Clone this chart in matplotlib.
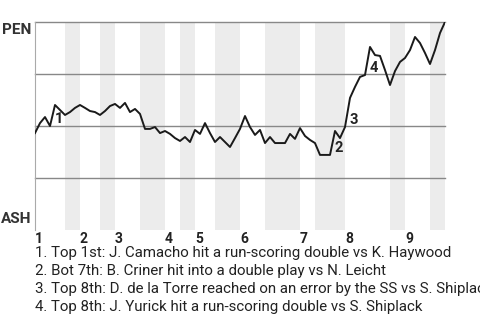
import matplotlib
matplotlib.use('Agg')
import matplotlib.pyplot as plt
import numpy as np

plt.rcParams['font.family'] = ['Roboto', 'DejaVu Sans']

# win probability for PEN (%) after each plate appearance
wp = [46.6, 51.4, 54.3, 50.0, 60.1, 57.7, 55.3, 56.7, 58.7, 60.1,
      58.7, 57.2, 56.7, 55.3, 57.2, 59.6, 60.6, 58.7, 61.1, 56.7,
      58.2, 55.8, 48.6, 48.6, 49.5, 46.6, 47.6, 46.2, 44.2, 42.8,
      44.7, 42.3, 48.1, 46.2, 51.4, 46.6, 42.3, 44.7, 42.3, 39.9,
      44.2, 48.6, 54.8, 49.5, 45.7, 48.1, 41.8, 44.7, 41.8, 41.8,
      41.8, 46.2, 43.8, 49.0, 45.2, 43.3, 41.8, 36.1, 36.1, 36.1,
      47.6, 44.2, 49.5, 63.5, 68.8, 73.6, 74.5, 88.0, 84.1, 83.7,
      76.9, 69.7, 76.4, 80.8, 82.7, 86.5, 92.8, 89.9, 85.1, 79.8,
      86.5, 94.7, 100.0]

# plate appearances in each half inning (top 1st, bot 1st, ...)
half_pa = [6, 3, 4, 3, 5, 5, 3, 3, 4, 5, 5, 7, 3, 6, 9, 3, 5, 3]

top_team = 'PEN'
bottom_team = 'ASH'

# (index of the PA that made the swing, label)
event_idx = [4, 60, 63, 67]
event_lbl = ['1', '2', '3', '4']
event_text = [
    '1. Top 1st: J. Camacho hit a run-scoring double vs K. Haywood',
    '2. Bot 7th: B. Criner hit into a double play vs N. Leicht',
    '3. Top 8th: D. de la Torre reached on an error by the SS vs S. Shiplack',
    '4. Top 8th: J. Yurick hit a run-scoring double vs S. Shiplack',
]

fig = plt.figure(figsize=(4.8, 3.2), dpi=100)
ax = fig.add_axes([35/480, 90/320, 410/480, 208/320])
x = np.arange(len(wp))
ax.set_xlim(0, len(wp) - 1)
ax.set_ylim(0, 100)

bounds = np.concatenate([[0], np.cumsum(half_pa)])
# shade bottom halves
for k in range(1, len(half_pa), 2):
    ax.axvspan(bounds[k], bounds[k + 1], color='#ececec', lw=0, zorder=0)

for y in (25, 50, 75, 100):
    ax.axhline(y, color='#888888', lw=1, zorder=1, clip_on=False)

ax.plot(x, wp, color='#1a1a1a', lw=1.4, zorder=3)

for i, lbl in zip(event_idx, event_lbl):
    ax.text(i, wp[i - 1], lbl, ha='left', va='bottom', fontsize=10.5,
            fontweight='bold', color='#222222', zorder=4)

for s in ('top', 'right', 'bottom'):
    ax.spines[s].set_visible(False)
ax.spines['left'].set_color('#aaaaaa')
ax.set_xticks([])
ax.set_yticks([])

# inning numbers at the start of each inning
for k in range(0, len(half_pa), 2):
    ax.text(bounds[k], -1.2, str(k // 2 + 1), ha='left', va='top',
            fontsize=10, fontweight='bold', color='#222222')

fig.text(31/480, 1 - 23/320, top_team, ha='right', va='top',
         fontsize=11, fontweight='bold', color='#333333')
fig.text(31/480, 1 - 226/320, bottom_team, ha='right', va='bottom',
         fontsize=11, fontweight='bold', color='#333333')

for j, t in enumerate(event_text):
    fig.text(35/480, 1 - (253 + 18 * j)/320, t, ha='left', va='center',
             fontsize=10.8, color='#222222')

fig.savefig('out.png', dpi=100)
